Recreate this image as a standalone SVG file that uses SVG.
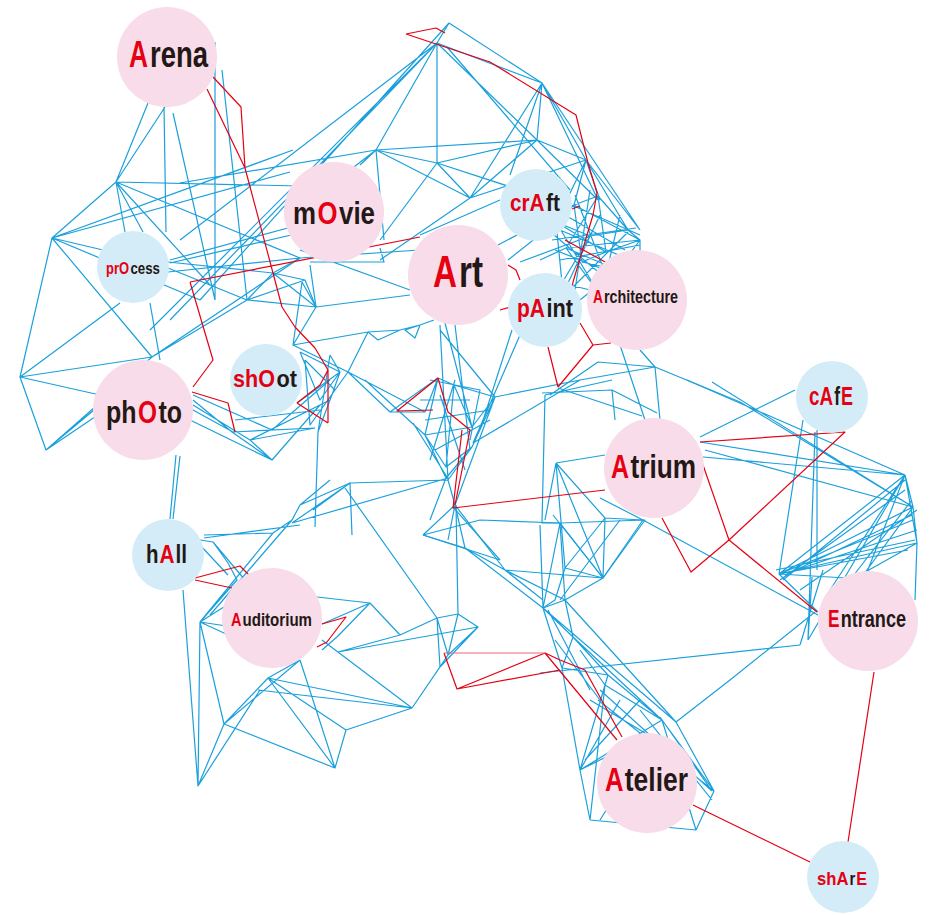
<svg xmlns="http://www.w3.org/2000/svg" width="931" height="915" viewBox="0 0 931 915">
<style>
.b{fill:none;stroke:#1ba0dc;stroke-width:1.2;stroke-linejoin:round}
.r{fill:none;stroke:#e50012;stroke-width:1.2;stroke-linejoin:round}
.pk{fill:#f8dce9}
.lb{fill:#d4ebf8}
.t{font-family:"Liberation Sans Narrow","Liberation Sans",Arial,sans-serif;font-weight:bold;fill:#231815}
.a{fill:#e50012}
</style>
<rect width="931" height="915" fill="#fff"/>
<g id="connectors">
<path class="b" d="M148,103 L116,182 L52,238 L20,377 L46,450 L100,405 M165,107 L116,182 L300,186 M116,182 L125,232 M116,182 L143,232 M116,182 L300,258 M116,182 L210,285 M164,107 L166,232 M173,113 L215,300 M215,42 L215,300 M222,70 L247,300 M52,238 L293,150 M52,238 L290,172 M52,238 L103,250 M52,238 L152,357 L20,377 M52,238 L200,300 M20,377 L120,303 M20,377 L100,395 M46,450 L120,400 M46,450 L152,357 M152,357 L247,300 M152,357 L300,258 M150,303 L160,360 M150,330 L437,43 M170,320 L437,43 M200,300 L449,23 M180,240 L437,43 M376,150 L180,183"/>
<path class="b" d="M168,262 L273,273 L247,300 M168,268 L247,300 M168,272 L300,258 M170,263 L300,233 M170,260 L310,222 M247,300 L316,307 M247,300 L305,280 M273,273 L305,280 L316,307 M273,273 L316,307 M273,273 L300,258 M193,400 L232,432 L272,460 L250,440 M193,405 L250,440 L315,428 M193,395 L272,430 L315,428 M193,410 L233,432 M190,420 L272,460 M233,432 L315,428 M250,440 L330,400 M272,460 L320,405 M235,420 L320,410 M272,430 L330,380 M176,455 L170,519 M180,456 L173,519 M300,258 L420,250 M310,262 L384,262 L380,248 M300,250 L410,290 M316,307 L410,295"/>
<path class="b" d="M449,23 L437,43 M449,23 L542,83 M437,43 L542,83 M437,43 L376,150 M437,43 L437,163 M437,43 L537,140 M447,47 L570,190 M542,83 L586,160 M542,83 L598,200 M542,83 L640,230 M542,83 L537,140 M542,83 L470,198 M542,83 L510,175 M376,150 L537,140 M376,150 L437,163 M376,150 L470,198 M376,150 L350,170 M437,163 L537,140 M437,163 L470,198 M437,163 L520,190 M537,140 L470,198 M537,140 L586,160 M537,140 L598,200 M470,198 L380,260 M470,198 L586,160 M586,160 L640,230 M586,160 L600,200 M437,163 L380,240 M376,150 L384,240 M420,235 L500,200 M360,165 L376,150"/>
<path class="b" d="M556,222 L574,205 L598,196 L628,230 L640,240 L618,270 L598,292 L562,283 L556,222 M556,222 L590,236 L628,230 M574,205 L582,262 L618,270 M598,196 L566,248 L598,292 M556,222 L606,252 L640,240 M566,248 L640,240 M590,236 L562,283 M582,262 L606,252 L598,196 M566,248 L618,270 M556,222 L598,292 M574,205 L640,240 M586,160 L574,205 M586,160 L628,230 M586,160 L556,222 M562,283 L545,300 M540,260 L566,248 M508,260 L556,222 M498,245 L574,205 M520,262 L590,236 M562,283 L520,330 M598,292 L600,320 M640,240 L640,260 M560,230 L635,262 M570,290 L628,232 M580,300 L640,252 M560,200 L640,235 M565,215 L625,250 M552,240 L636,228 M560,260 L640,245 M575,195 L610,285 M590,190 L575,290 M555,250 L630,280 M600,215 L560,300 M620,215 L600,300 M548,230 L620,290"/>
<path class="b" d="M302,282 L316,307 L293,345 L302,282 M316,307 L310,265 M293,345 L368,332 L400,330 L420,325 L434,320 M368,332 L378,340 L400,330 M420,325 L405,330 L415,338 L420,325 M293,345 L348,372 L368,332 M300,352 L340,372 L320,400 L300,352 M305,360 L335,390 L310,425 L305,360 M330,355 L340,372 L333,392 L318,432 L330,355 M310,425 L348,372 M297,403 L340,372 M318,432 L315,527 M348,372 L390,412 L438,378 L454,385 L495,397 M390,412 L425,412 L438,378 M348,372 L425,412 M365,380 L425,435 M438,378 L425,435 L446,467 L472,447 L495,397 M454,385 L472,427 L425,435 M454,385 L446,467 M472,427 L495,397 M472,447 L446,478 L425,435 M440,330 L495,397 M445,323 L472,427 M495,397 L580,380 M473,443 L580,380 M512,330 L480,430 M520,335 L473,443 M495,397 L455,505 M472,447 L448,480 L455,505 L448,540 M446,478 L430,520 M448,480 L350,483 L292,523 M350,483 L352,535 M350,483 L313,510 M413,423 L447,477 M440,325 L448,480 M455,325 L470,450 M292,523 L448,478 M430,380 L480,390 L470,440 M425,420 L490,410 M435,450 L490,420 M440,395 L465,470 M455,380 L430,460 M420,400 L470,400"/>
<path class="b" d="M204,535 L273,533 L292,520 M204,538 L300,525 M273,533 L200,622 M292,520 L210,615 M200,540 L213,542 L228,563 L237,580 L200,622 M213,542 L245,580 M200,545 L228,575 M200,622 L235,600 M200,622 L240,628 M200,622 L250,645 M200,622 L198,786 L224,724 L200,622 M183,590 L198,786 M224,724 L268,678 L346,730 L335,768 L268,678 M224,724 L335,768 M224,724 L300,660 M198,786 L260,690 M268,678 L412,708 L346,730 M258,690 L412,708 M412,708 L440,667 L437,618 L458,614 L478,627 L448,655 L412,708 M437,618 L448,655 M458,614 L448,655 M478,627 L440,667 M338,652 L478,627 M322,624 L370,603 L400,635 M317,597 L370,603 M370,603 L338,636 L322,650 M400,635 L437,618 M400,635 L338,652 M322,640 L412,708 M300,660 L335,768 M268,678 L300,660 M292,520 L300,505 L350,483 M345,488 L437,618 M456,505 L458,614 M453,507 L500,560 M423,535 L500,560 M300,505 L330,480"/>
<path class="b" d="M423,535 L465,548 L505,570 L603,578 L560,523 L645,520 L603,578 M423,535 L455,505 L465,548 M423,535 L480,520 L560,523 M455,505 L505,570 M465,548 L543,608 L565,600 L505,570 M560,523 L543,608 M505,570 L543,600 M603,578 L565,600 M560,523 L565,600 M540,525 L543,608 M543,608 L573,637 L565,600 M543,608 L562,668 L573,637 M573,637 L608,675 L662,720 M562,668 L608,675 M562,668 L580,770 M573,637 L662,720 M543,608 L676,722 M565,600 L676,722 M608,675 L580,770 M580,770 L590,820 M662,720 L714,791 L696,830 M676,722 L714,791 M676,722 L730,680 L815,612 M540,673 L800,645 M580,770 L605,685 L580,650 M590,820 L696,830 M580,770 L640,740 M605,685 L662,720 M580,770 L662,720 M590,820 L605,685 M662,720 L696,830 M555,640 L600,700 M548,610 L590,690 M598,700 L714,791 M600,690 L712,791 M590,700 L690,760 M660,717 L712,791 M640,710 L712,800 M580,770 L620,700 M585,760 L640,700 M600,820 L650,740"/>
<path class="b" d="M556,463 L605,455 M556,463 L605,518 L643,520 M556,463 L603,578 M556,463 L565,568 M556,463 L545,520 M545,395 L542,523 L560,523 M605,518 L603,578 L565,568 L555,600 L543,608 M643,520 L603,578 M605,518 L565,568 M553,515 L603,578 M600,498 L643,520 M542,393 L612,390 L657,413 M545,395 L612,380 M558,388 L642,416 M612,390 L615,420 M620,345 L645,420 M640,350 L655,367 L660,420 M655,367 L740,402 M598,362 L655,367 M580,380 L655,367 M550,395 L598,362 M560,600 L620,520"/>
<path class="b" d="M700,437 L795,390 M700,442 L905,475 M705,450 L913,507 M687,380 L905,475 M712,382 L913,507 M740,402 L913,507 M803,420 L779,574 M815,432 L808,640 M817,430 L817,570 M779,574 L905,475 M779,574 L913,507 M779,574 L917,543 M779,574 L913,520 M779,574 L908,550 M779,574 L880,580 M779,574 L818,612 M905,475 L913,507 L917,543 L905,475 M905,475 L860,590 M913,507 L845,600 M917,543 L860,575 M917,543 L915,600 M905,475 L808,640 M812,577 L808,640 M800,645 L823,570 M643,520 L818,615 M703,457 L905,475 M783,580 L905,480 M790,572 L917,530 M780,580 L905,490 M785,575 L912,515 M776,570 L915,540 M800,590 L917,510 M830,590 L905,475 M850,580 L912,500"/>
<path class="r" d="M207,89 L245,168 L273,273 L282,307 L295,327 L315,348 L328,370 L328,423 M213,77 L241,107 L245,168 M190,282 L420,237 M190,282 L213,360 L193,387 M192,392 L228,403 L235,432 M297,403 L328,423 M297,403 L320,385 L328,370 M406,34 L436,28 L445,33 M406,34 L490,62 L576,115 L588,163 L597,193 L593,215 L573,282 L570,300 M565,240 L607,263 M572,209 L580,206 M580,323 L593,345 L611,343 M593,345 L558,387 M548,347 L558,387 M508,265 L516,270 L520,280 M500,310 L510,307 M438,378 L397,411 L433,410 M438,378 L448,412 L470,430 L455,505 M462,430 L453,508 L605,490 M195,578 L240,566 L252,578 M195,580 L232,588 M322,624 L346,617 L327,642 L317,647 M444,653 L457,689 L545,653 M545,653 L560,660 L585,670 M457,689 L560,670 M545,653 L617,740 M585,670 L622,737 M693,805 L810,862 M874,672 L848,842 M700,442 L845,432 L729,540 L691,572 L662,518 M703,465 L729,540 L817,612"/>
<path class="r" style="stroke:#ec6a7a" d="M444,653 L545,653"/>
</g>
<g id="node-arena"><circle class="pk" cx="167" cy="57" r="50"/><text class="t a" x="129" y="67" font-size="37" textLength="19" lengthAdjust="spacingAndGlyphs">A</text><text class="t" x="150" y="67" font-size="37" textLength="58" lengthAdjust="spacingAndGlyphs">rena</text></g>
<g id="node-movie"><circle class="pk" cx="334" cy="212" r="50"/><text class="t" x="293" y="224" font-size="31" textLength="23" lengthAdjust="spacingAndGlyphs">m</text><text class="t a" x="317.5" y="224" font-size="31" textLength="20" lengthAdjust="spacingAndGlyphs">O</text><text class="t" x="339" y="224" font-size="31" textLength="36" lengthAdjust="spacingAndGlyphs">vie</text></g>
<g id="node-art"><circle class="pk" cx="458" cy="275" r="50"/><text class="t a" x="433" y="287" font-size="44" textLength="24" lengthAdjust="spacingAndGlyphs">A</text><text class="t" x="459" y="287" font-size="44" textLength="24" lengthAdjust="spacingAndGlyphs">rt</text></g>
<g id="node-craft"><circle class="lb" cx="536" cy="205" r="36"/><text class="t a" x="510" y="211" font-size="24" textLength="34.5" lengthAdjust="spacingAndGlyphs">crA</text><text class="t" x="546" y="211" font-size="24" textLength="14" lengthAdjust="spacingAndGlyphs">ft</text></g>
<g id="node-paint"><circle class="lb" cx="545" cy="310" r="37"/><text class="t a" x="517" y="317" font-size="26" textLength="28" lengthAdjust="spacingAndGlyphs">pA</text><text class="t" x="546.5" y="317" font-size="26" textLength="26.5" lengthAdjust="spacingAndGlyphs">int</text></g>
<g id="node-architecture"><circle class="pk" cx="637" cy="300" r="50"/><text class="t a" x="593" y="303" font-size="18" textLength="10" lengthAdjust="spacingAndGlyphs">A</text><text class="t" x="604" y="303" font-size="18" textLength="74" lengthAdjust="spacingAndGlyphs">rchitecture</text></g>
<g id="node-process"><circle class="lb" cx="133" cy="267" r="36"/><text class="t a" x="106" y="274" font-size="17" textLength="23" lengthAdjust="spacingAndGlyphs">prO</text><text class="t" x="130.5" y="274" font-size="17" textLength="29.5" lengthAdjust="spacingAndGlyphs">cess</text></g>
<g id="node-photo"><circle class="pk" cx="143" cy="410" r="50"/><text class="t" x="106" y="423" font-size="32" textLength="30.5" lengthAdjust="spacingAndGlyphs">ph</text><text class="t a" x="138" y="423" font-size="32" textLength="19" lengthAdjust="spacingAndGlyphs">O</text><text class="t" x="158.5" y="423" font-size="32" textLength="23.5" lengthAdjust="spacingAndGlyphs">to</text></g>
<g id="node-shoot"><circle class="lb" cx="266" cy="380" r="36"/><text class="t a" x="233" y="387" font-size="24" textLength="42" lengthAdjust="spacingAndGlyphs">shO</text><text class="t" x="276.5" y="387" font-size="24" textLength="20.5" lengthAdjust="spacingAndGlyphs">ot</text></g>
<g id="node-hall"><circle class="lb" cx="168" cy="555" r="36"/><text class="t" x="146" y="563" font-size="25" textLength="12.5" lengthAdjust="spacingAndGlyphs">h</text><text class="t a" x="159.5" y="563" font-size="25" textLength="15" lengthAdjust="spacingAndGlyphs">A</text><text class="t" x="175.5" y="563" font-size="25" textLength="11.5" lengthAdjust="spacingAndGlyphs">ll</text></g>
<g id="node-auditorium"><circle class="pk" cx="272" cy="618" r="50"/><text class="t a" x="231" y="626" font-size="19" textLength="10.5" lengthAdjust="spacingAndGlyphs">A</text><text class="t" x="242.5" y="626" font-size="19" textLength="69.5" lengthAdjust="spacingAndGlyphs">uditorium</text></g>
<g id="node-atrium"><circle class="pk" cx="654" cy="468" r="50"/><text class="t a" x="611" y="478" font-size="33" textLength="18" lengthAdjust="spacingAndGlyphs">A</text><text class="t" x="630.5" y="478" font-size="33" textLength="65.5" lengthAdjust="spacingAndGlyphs">trium</text></g>
<g id="node-cafe"><circle class="lb" cx="832" cy="397" r="36"/><text class="t a" x="809" y="405" font-size="25" textLength="24" lengthAdjust="spacingAndGlyphs">cA</text><text class="t" x="834.2" y="405" font-size="25" textLength="5.8" lengthAdjust="spacingAndGlyphs">f</text><text class="t a" x="841" y="405" font-size="25" textLength="12" lengthAdjust="spacingAndGlyphs">E</text></g>
<g id="node-entrance"><circle class="pk" cx="868" cy="621" r="50"/><text class="t a" x="828" y="627" font-size="24" textLength="11.5" lengthAdjust="spacingAndGlyphs">E</text><text class="t" x="840.7" y="627" font-size="24" textLength="65.3" lengthAdjust="spacingAndGlyphs">ntrance</text></g>
<g id="node-atelier"><circle class="pk" cx="647" cy="783" r="50"/><text class="t a" x="605" y="791" font-size="33" textLength="18.5" lengthAdjust="spacingAndGlyphs">A</text><text class="t" x="624.8" y="791" font-size="33" textLength="63.2" lengthAdjust="spacingAndGlyphs">telier</text></g>
<g id="node-share"><circle class="lb" cx="843" cy="877" r="36"/><text class="t a" x="817" y="885" font-size="19" textLength="31.4" lengthAdjust="spacingAndGlyphs">shA</text><text class="t" x="849.5" y="885" font-size="19" textLength="5.8" lengthAdjust="spacingAndGlyphs">r</text><text class="t a" x="856.2" y="885" font-size="19" textLength="10.8" lengthAdjust="spacingAndGlyphs">E</text></g>
</svg>
